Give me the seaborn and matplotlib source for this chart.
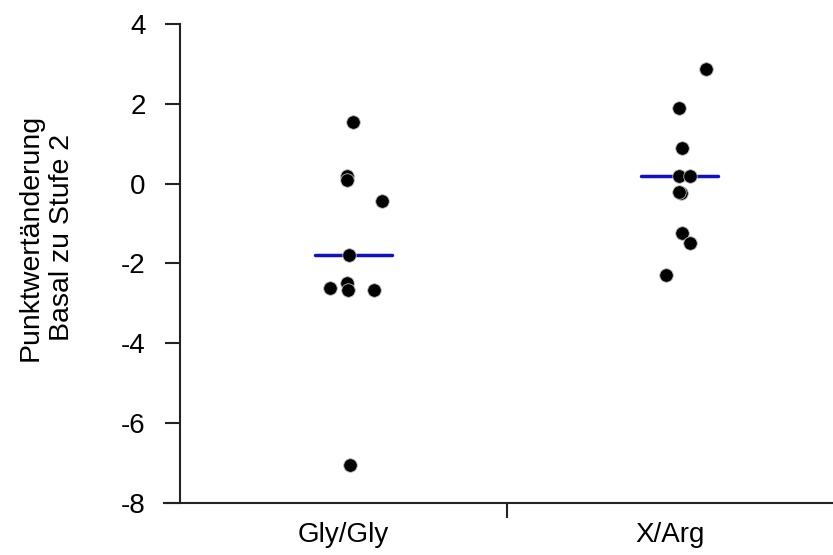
import matplotlib
matplotlib.use("Agg")
import matplotlib.pyplot as plt
import seaborn as sns
import pandas as pd
import numpy as np

# values
groups = ["Gly/Gly", "X/Arg"]
gly_values = [1.55, 0.2, 0.1, -0.43, -1.8, -2.63, -2.48, -2.68, -2.68, -7.05]
gly_jitter = [0.028, 0.012, 0.012, 0.117, 0.018, -0.043, 0.012, 0.015, 0.092, 0.021]
arg_values = [2.88, 1.9, 0.9, 0.2, 0.2, -0.23, -0.2, -1.23, -1.48, -2.28]
arg_jitter = [0.110, 0.028, 0.037, 0.028, 0.061, 0.034, 0.028, 0.037, 0.061, -0.012]
group_means = [-1.78, 0.2]
y_ticks = [4, 2, 0, -2, -4, -6, -8]
y_label = "Punktwertänderung\nBasal zu Stufe 2"

sns.set_style("white")
plt.rcParams["font.family"] = ["Liberation Sans", "DejaVu Sans"]
plt.rcParams["text.color"] = "black"
plt.rcParams["axes.labelcolor"] = "black"
plt.rcParams["xtick.color"] = "black"
plt.rcParams["ytick.color"] = "black"

df = pd.DataFrame({
    "group": [groups[0]] * len(gly_values) + [groups[1]] * len(arg_values),
    "value": gly_values + arg_values,
    "jitter": gly_jitter + arg_jitter,
})
df["pos"] = df["group"].map({g: i for i, g in enumerate(groups)}) + df["jitter"]

fig = plt.figure(figsize=(8.33, 5.55), dpi=100)
ax = fig.add_axes([0.197, 0.094, 0.803, 0.863])

sns.scatterplot(data=df, x="pos", y="value", color="black", s=95,
                edgecolor="#bbbbbb", linewidth=0.6, ax=ax, zorder=3)

# mean lines
half = 0.118
shift = 0.03
for i, m in enumerate(group_means):
    ax.plot([i + shift - half, i + shift + half], [m, m], color="#1010c8",
            linewidth=2.5, zorder=2)

ax.set_xlim(-0.55, 1.5)
ax.set_ylim(-8, 4)
ax.set_yticks(y_ticks)
ax.set_yticklabels([str(t) for t in y_ticks])
ax.set_xticks([0.5])
ax.set_xticklabels([""])
ax.set_xticks([0, 1], labels=groups, minor=True)

ax.spines["left"].set_position(("data", -0.5))
for side in ["top", "right"]:
    ax.spines[side].set_visible(False)
for side in ["left", "bottom"]:
    ax.spines[side].set_color("#222222")
    ax.spines[side].set_linewidth(1.5)

ax.tick_params(axis="y", direction="out", length=11, width=1.5, color="#222222",
               pad=14, labelsize=20, left=True)
ax.tick_params(axis="x", which="major", direction="out", length=11, width=1.5,
               color="#222222", bottom=True)
ax.tick_params(axis="x", which="minor", length=0, pad=14, labelsize=20)

ax.set_xlabel("")
ax.set_ylabel(y_label, fontsize=20.5, linespacing=1.3)
ax.yaxis.set_label_coords(-0.133, 0.555)

fig.savefig("out.png", dpi=100)
